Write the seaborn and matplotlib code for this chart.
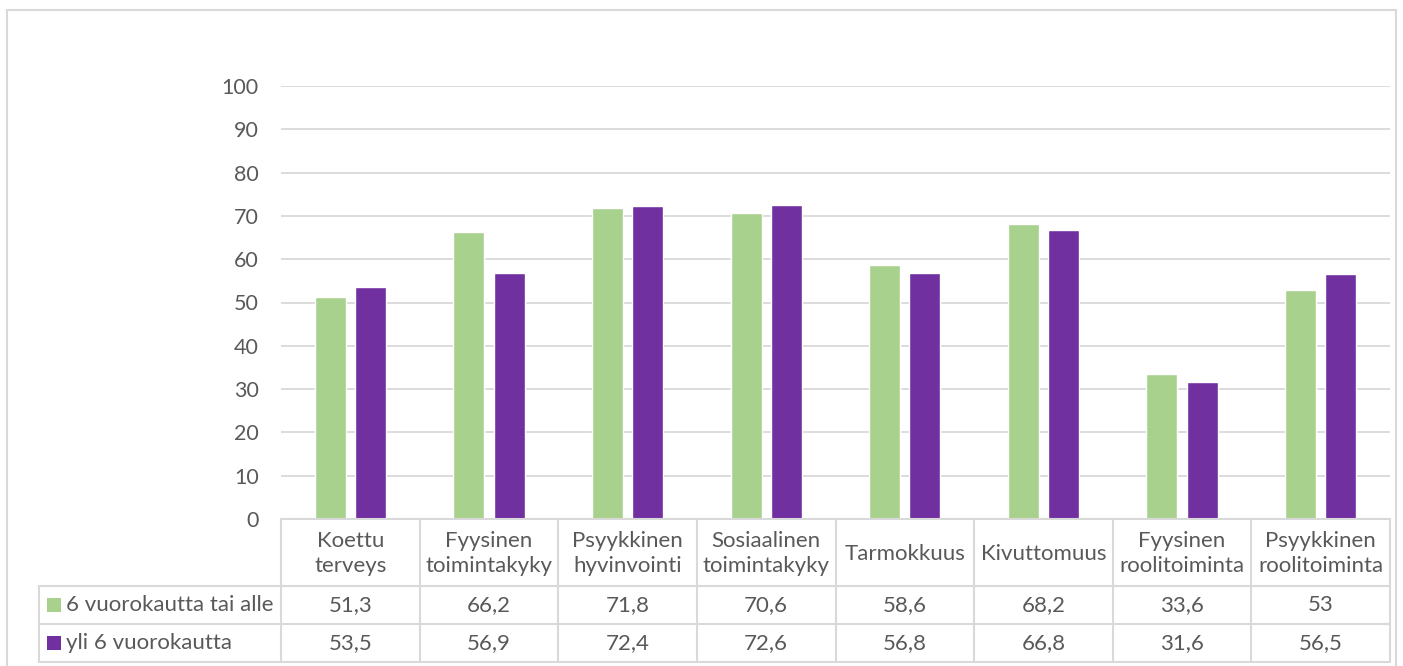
import matplotlib
matplotlib.use("Agg")
import matplotlib.pyplot as plt
from matplotlib.lines import Line2D
from matplotlib.patches import Rectangle
import matplotlib.transforms as mtransforms
import seaborn as sns
import pandas as pd

# --- data -----------------------------------------------------------------
categories = ["Koettu\nterveys", "Fyysinen\ntoimintakyky", "Psyykkinen\nhyvinvointi",
              "Sosiaalinen\ntoimintakyky", "Tarmokkuus", "Kivuttomuus",
              "Fyysinen\nroolitoiminta", "Psyykkinen\nroolitoiminta"]
series_names = ["6 vuorokautta tai alle", "yli 6 vuorokautta"]
short_stay = [51.3, 66.2, 71.8, 70.6, 58.6, 68.2, 33.6, 53.0]
long_stay = [53.5, 56.9, 72.4, 72.6, 56.8, 66.8, 31.6, 56.5]
y_ticks = [0, 10, 20, 30, 40, 50, 60, 70, 80, 90, 100]

colors = ["#A9D18E", "#7030A0"]
text_color = "#595959"
grid_color = "#D9D9D9"
tick_size = 15.5
table_size = 16

W, H = 1403, 666
sns.set_theme(style="white")
plt.rcParams["font.family"] = ["Lato", "DejaVu Sans"]

df = pd.DataFrame({
    "kategoria": categories * 2,
    "ryhmä": [series_names[0]] * len(categories) + [series_names[1]] * len(categories),
    "arvo": short_stay + long_stay,
})

fig = plt.figure(figsize=(W / 100, H / 100), dpi=100)


def fx(px):
    return px / W


def fy(py):
    return 1 - py / H


# plot area
left, right, top, bottom = 281, 1390, 86, 519
ax = fig.add_axes([fx(left), fy(bottom), fx(right) - fx(left), fy(top) - fy(bottom)])

sns.barplot(data=df, x="kategoria", y="arvo", hue="ryhmä", order=categories,
            hue_order=series_names, palette=colors, width=0.58, gap=0.23,
            saturation=1, legend=False, ax=ax, errorbar=None)

ax.set_xlim(-0.5, len(categories) - 0.5)
ax.set_ylim(0, 100)
ax.set_yticks(y_ticks)
ax.set_yticklabels([str(t) for t in y_ticks])
ax.tick_params(axis="y", length=0, pad=16, labelsize=tick_size, labelcolor=text_color)
ax.set_xticks([])
ax.set_xlabel("")
ax.set_ylabel("")
for s in ax.spines.values():
    s.set_visible(False)
ax.yaxis.grid(True, color=grid_color, linewidth=1.3)
ax.set_axisbelow(True)

# --- outer frame ----------------------------------------------------------
frame_kw = dict(color=grid_color, linewidth=1.5, transform=fig.transFigure)
fig.add_artist(Line2D([fx(7), fx(7)], [fy(10), fy(H + 5)], **frame_kw))
fig.add_artist(Line2D([fx(7), fx(1396)], [fy(10), fy(10)], **frame_kw))
fig.add_artist(Line2D([fx(1396), fx(1396)], [fy(10), fy(H + 5)], **frame_kw))

# --- data table -----------------------------------------------------------
tbl_kw = dict(color=grid_color, linewidth=1.5, transform=fig.transFigure)
t_head, t_row1, t_row2, t_end = 519, 586, 624, 662
legend_left = 39

fig.add_artist(Line2D([fx(left), fx(right)], [fy(t_head), fy(t_head)], **tbl_kw))
for yy in (t_row1, t_row2, t_end):
    fig.add_artist(Line2D([fx(legend_left), fx(right)], [fy(yy), fy(yy)], **tbl_kw))
fig.add_artist(Line2D([fx(legend_left), fx(legend_left)], [fy(t_row1), fy(t_end)], **tbl_kw))

# column boundaries follow the category axis
bt = mtransforms.blended_transform_factory(ax.transData, fig.transFigure)
for i in range(len(categories) + 1):
    xb = i - 0.5
    fig.add_artist(Line2D([xb, xb], [fy(t_head), fy(t_end)], color=grid_color,
                          linewidth=1.5, transform=bt))


def fmt(v):
    return f"{v:g}".replace(".", ",")


for i, cat in enumerate(categories):
    fig.text(i, fy((t_head + t_row1) / 2 + 1), cat, transform=bt, ha="center",
             va="center", fontsize=table_size, color=text_color, linespacing=1.35)
    fig.text(i, fy((t_row1 + t_row2) / 2), fmt(short_stay[i]), transform=bt,
             ha="center", va="center", fontsize=table_size, color=text_color)
    fig.text(i, fy((t_row2 + t_end) / 2), fmt(long_stay[i]), transform=bt,
             ha="center", va="center", fontsize=table_size, color=text_color)

# legend keys and series names in the table's first column
for name, col, (y0, y1) in zip(series_names, colors,
                               [(t_row1, t_row2), (t_row2, t_end)]):
    yc = (y0 + y1) / 2
    fig.add_artist(Rectangle((fx(47), fy(yc + 7)), fx(14), 14 / H,
                             facecolor=col, edgecolor="none",
                             transform=fig.transFigure))
    fig.text(fx(66), fy(yc), name, ha="left", va="center", fontsize=table_size,
             color=text_color)

fig.savefig("out.png", dpi=100)
